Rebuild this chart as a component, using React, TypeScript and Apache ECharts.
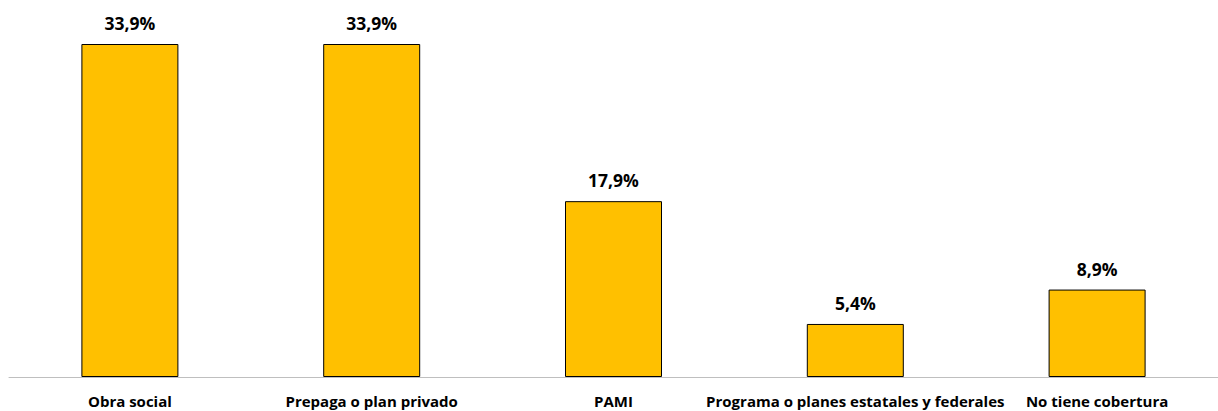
import React, { useEffect, useRef } from "react";
import * as echarts from "echarts";

const categories = [
  "Obra social",
  "Prepaga o plan privado",
  "PAMI",
  "Programa o planes estatales y federales",
  "No tiene cobertura",
];
const values = [33.9, 33.9, 17.9, 5.4, 8.9];

const FONT = "'Open Sans', Lato, 'Noto Sans', sans-serif";

export default function App() {
  const ref = useRef<HTMLDivElement>(null);
  useEffect(() => {
    document.body.style.margin = "0";
    const chart = echarts.init(ref.current!, null, { renderer: "svg" });
    chart.setOption({
      animation: false,
      grid: { left: 9, width: 1210, top: 44, bottom: 34, containLabel: false },
      xAxis: {
        type: "category",
        data: categories,
        axisLine: { show: true, lineStyle: { color: "#bfbfbf", width: 1 } },
        axisTick: { show: false },
        axisLabel: {
          interval: 0,
          margin: 16,
          color: "#000",
          fontFamily: FONT,
          fontWeight: "bold",
          fontSize: 15,
        },
      },
      yAxis: {
        type: "value",
        min: 0,
        max: "dataMax",
        show: false,
        splitLine: { show: false },
      },
      series: [
        {
          type: "bar",
          data: values,
          barWidth: 97,
          itemStyle: { color: "#FFC000", borderColor: "#000", borderWidth: 1 },
          label: {
            show: true,
            position: "top",
            distance: 12,
            color: "#000",
            fontFamily: FONT,
            fontWeight: "bold",
            fontSize: 17.5,
            formatter: (p: any) => p.value.toFixed(1).replace(".", ",") + "%",
          },
        },
      ],
    });
    return () => chart.dispose();
  }, []);
  return <div ref={ref} style={{ width: 1218, height: 411 }} />;
}
